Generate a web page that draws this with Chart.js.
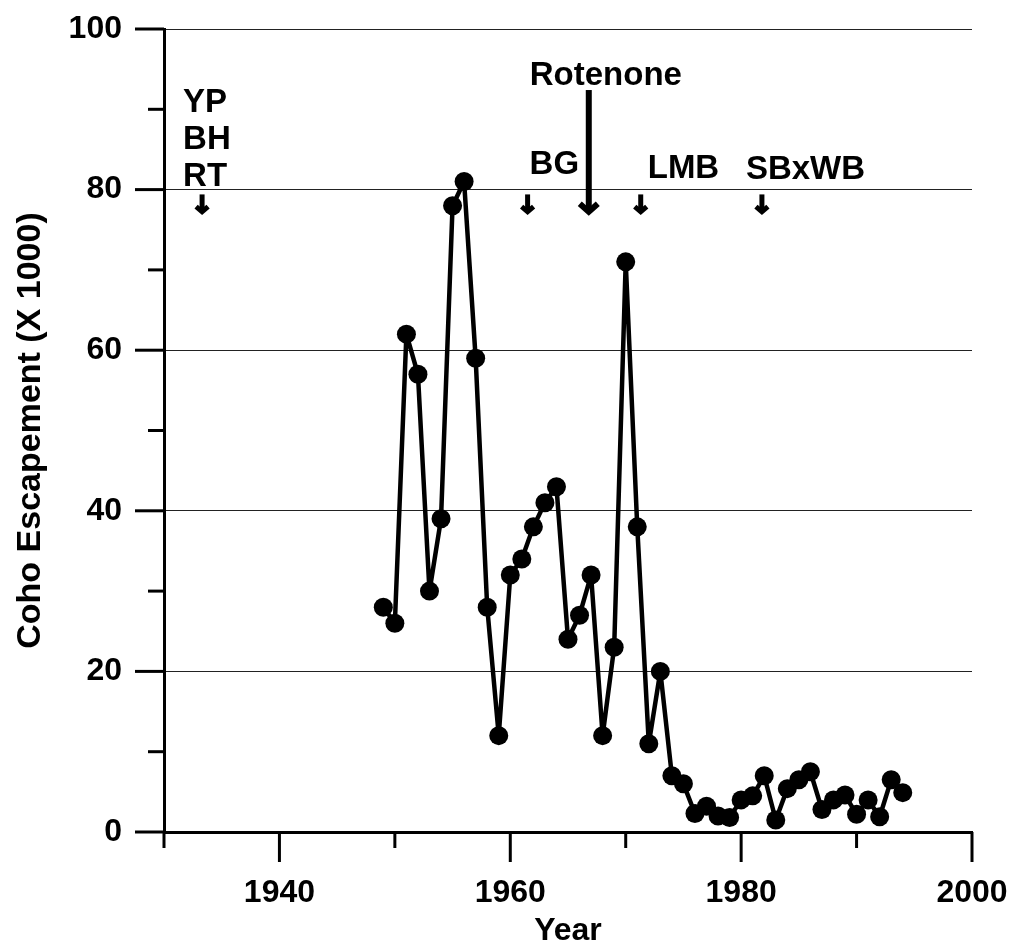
<!DOCTYPE html>
<html>
<head>
<meta charset="utf-8">
<script src="https://cdn.jsdelivr.net/npm/chart.js@4.4.1/dist/chart.umd.min.js"></script>
<style>
  body { margin: 0; background: #fff; }
  canvas { display: block; }
</style>
</head>
<body>
<canvas id="cohoChart" width="1010" height="942"></canvas>
<script>
// Coho escapement by year (thousands of fish)
const years = [1949, 1950, 1951, 1952, 1953, 1954, 1955, 1956, 1957, 1958,
  1959, 1960, 1961, 1962, 1963, 1964, 1965, 1966, 1967, 1968,
  1969, 1970, 1971, 1972, 1973, 1974, 1975, 1976, 1977, 1978,
  1979, 1980, 1981, 1982, 1983, 1984, 1985, 1986, 1987, 1988,
  1989, 1990, 1991, 1992, 1993, 1994];
const escapement = [28, 26, 62, 57, 30, 39, 78, 81, 59, 28,
  12, 32, 34, 38, 41, 43, 24, 27, 32, 12,
  23, 71, 38, 11, 20, 7, 6, 2.3, 3.2, 2,
  1.8, 4, 4.5, 7, 1.5, 5.4, 6.5, 7.5, 2.8, 4,
  4.6, 2.2, 4, 1.9, 6.5, 4.9];

// x axis labels every 20 years, y labels every 20
const xLabelYears = [1940, 1960, 1980, 2000];
const yLabelValues = [0, 20, 40, 60, 80, 100];

// event markers (species introductions, rotenone treatment)
const eventYears = [1933.3, 1961.5, 1966.8, 1971.3, 1981.8];
const eventLabels = [['YP', 'BH', 'RT'], ['BG'], ['Rotenone'], ['LMB'], ['SBxWB']];

const FONT = '"Liberation Sans", Arial, sans-serif';

// text offsets / baselines for the event labels (pixels)
const eventText = [
  { dx: -19, base: 112, step: 37 },
  { dx: 2, base: 174 },
  { dx: -59, base: 85 },
  { dx: 7, base: 178 },
  { dx: -16, base: 179 }
];

function drawArrow(ctx, x, yTop, yTip, head, w) {
  ctx.lineWidth = w;
  ctx.beginPath();
  ctx.moveTo(x, yTop);
  ctx.lineTo(x, yTip - 3);
  ctx.stroke();
  ctx.beginPath();
  ctx.moveTo(x - head, yTip - head - 1);
  ctx.lineTo(x, yTip - 2);
  ctx.lineTo(x + head, yTip - head - 1);
  ctx.stroke();
}

const decorPlugin = {
  id: 'decor',
  afterDraw(chart) {
    const ctx = chart.ctx;
    const xs = chart.scales.x, ys = chart.scales.y;
    ctx.save();
    ctx.strokeStyle = '#000';
    ctx.fillStyle = '#000';
    ctx.lineCap = 'butt';
    ctx.lineJoin = 'miter';

    // tick marks: long on labelled values, short in between
    ctx.lineWidth = 3;
    for (let v = 0; v <= 100; v += 10) {
      const y = ys.getPixelForValue(v);
      const len = v % 20 === 0 ? 29 : 16;
      ctx.beginPath();
      ctx.moveTo(xs.left - len, y);
      ctx.lineTo(xs.left, y);
      ctx.stroke();
    }
    for (let yr = 1930; yr <= 2000; yr += 10) {
      const x = xs.getPixelForValue(yr);
      const len = yr % 20 === 0 ? 30 : 16;
      ctx.beginPath();
      ctx.moveTo(x, ys.bottom);
      ctx.lineTo(x, ys.bottom + len);
      ctx.stroke();
    }

    // event arrows and labels
    ctx.font = 'bold 33px ' + FONT;
    ctx.textAlign = 'left';
    ctx.textBaseline = 'alphabetic';
    eventYears.forEach((yr, i) => {
      const x = xs.getPixelForValue(yr);
      const tip = ys.getPixelForValue(77);
      if (eventLabels[i][0] === 'Rotenone') {
        drawArrow(ctx, x, ys.getPixelForValue(92.4), tip, 9, 6);
      } else {
        drawArrow(ctx, x, ys.getPixelForValue(79.4), tip, 6, 5);
      }
      const t = eventText[i];
      eventLabels[i].forEach((line, j) => {
        ctx.fillText(line, x + t.dx, t.base + j * (t.step || 0));
      });
    });
    ctx.restore();
  }
};

const ctx = document.getElementById('cohoChart').getContext('2d');
new Chart(ctx, {
  type: 'line',
  data: {
    datasets: [{
      label: 'Coho Escapement',
      data: years.map((yr, i) => ({ x: yr, y: escapement[i] })),
      borderColor: '#000',
      backgroundColor: '#000',
      borderWidth: 4.5,
      borderJoinStyle: 'round',
      pointRadius: 9.5,
      pointBorderWidth: 0,
      pointBackgroundColor: '#000',
      tension: 0
    }]
  },
  options: {
    responsive: false,
    animation: false,
    devicePixelRatio: 1,
    layout: { padding: { left: 8, right: 38, top: 29, bottom: 0 } },
    plugins: {
      legend: { display: false },
      tooltip: { enabled: false }
    },
    scales: {
      x: {
        type: 'linear',
        min: 1930,
        max: 2000,
        afterFit: s => { s.height = 110; s.paddingLeft = 0; s.paddingRight = 0; },
        border: { display: true, color: '#000', width: 3 },
        grid: { drawOnChartArea: false, drawTicks: false },
        ticks: {
          stepSize: 10,
          padding: 42,
          color: '#000',
          maxRotation: 0,
          font: { family: FONT, size: 32, weight: 'bold' },
          callback: v => xLabelYears.includes(v) ? String(v) : ''
        },
        title: {
          display: true,
          text: 'Year',
          color: '#000',
          font: { family: FONT, size: 32, weight: 'bold', lineHeight: 1 },
          padding: { top: 0, bottom: -5 }
        }
      },
      y: {
        min: 0,
        max: 100,
        afterFit: s => { s.width = 156; s.paddingTop = 0; s.paddingBottom = 0; },
        border: { display: true, color: '#000', width: 3 },
        grid: {
          drawTicks: false,
          lineWidth: 1,
          color: c => (c.tick && c.tick.value % 20 === 0 && c.tick.value > 0) ? '#222' : 'rgba(0,0,0,0)'
        },
        ticks: {
          stepSize: 10,
          padding: 42,
          color: '#000',
          font: { family: FONT, size: 32, weight: 'bold' },
          callback: v => yLabelValues.includes(v) ? String(v) : ''
        },
        title: {
          display: true,
          text: 'Coho Escapement (X 1000)',
          color: '#000',
          font: { family: FONT, size: 34, weight: 'bold', lineHeight: 1.2 },
          padding: { top: 2, bottom: 0 }
        }
      }
    }
  },
  plugins: [decorPlugin]
});
</script>
</body>
</html>
